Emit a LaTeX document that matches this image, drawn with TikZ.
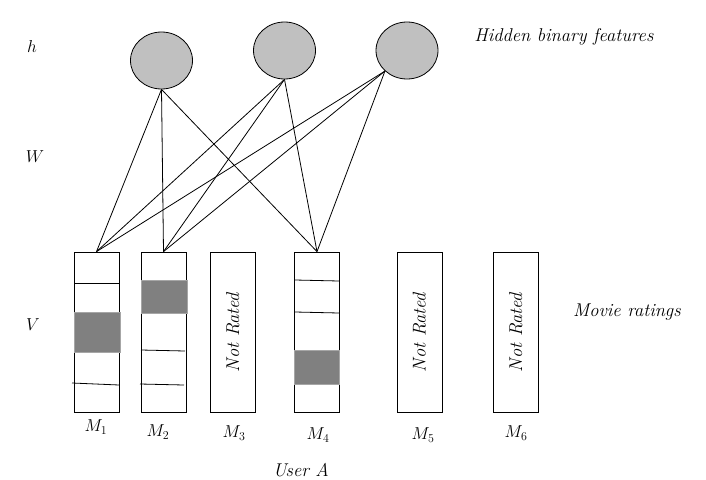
\documentclass[tikz,border=0pt]{standalone}
\usetikzlibrary{shapes.geometric}

\tikzset{every path/.style={line width=0.8pt}}
\tikzset{
  hidden/.style={ellipse,draw,fill=hidcol,inner sep=0pt,minimum width=62pt,minimum height=57pt},
  rating/.style={rectangle,draw,fill=white,inner sep=0pt,minimum width=45pt,minimum height=160pt},
  rated/.style={fill=ratecol,draw=ratecol!70!white},
  lbl/.style={font=\fontsize{18.5}{20}\selectfont}
}
\definecolor{hidcol}{RGB}{192,192,192}
\definecolor{ratecol}{RGB}{128,128,128}

\begin{document}
\begin{tikzpicture}[x=1pt,y=-1pt]
    \useasboundingbox (0,0) rectangle (706,479);
    % hidden units
    \node[hidden] (h1) at (161.5,60.5) {};
    \node[hidden] (h2) at (284.5,50.5) {};
    \node[hidden] (h3) at (407,50.5) {};
    % visible units
    \node[rating] (M1) at (96.5,332) {};
    \node[rating] (M2) at (163.5,332) {};
    \node[rating] (M3) at (233,332) {};
    \node[rating] (M4) at (317,332) {};
    \node[rating] (M5) at (419.5,332) {};
    \node[rating] (M6) at (516,332) {};
    % ratings of user A
    \fill[rated] (74,312) rectangle (120,352);
    \draw (74,283) -- (119,283);
    \draw (72,383) -- (119,385);
    \fill[rated] (141,280) rectangle (187,313);
    \draw (141,350) -- (185,351);
    \draw (140,384) -- (184,385);
    \fill[rated] (294,350) rectangle (339,384);
    \draw (295,280) -- (339,281);
    \draw (295,312) -- (339,313);
    \node[lbl,rotate=90] at (M3) {\textit{Not Rated}};
    \node[lbl,rotate=90] at (M5) {\textit{Not Rated}};
    \node[lbl,rotate=90] at (M6) {\textit{Not Rated}};
    % weights
    \draw (h1.south) -- (M1.north);
    \draw (h1.south) -- (M2.north);
    \draw (h1.south) -- (M4.north);
    \draw (h2.south) -- (M1.north);
    \draw (h2.south) -- (M2.north);
    \draw (h2.south) -- (M4.north);
    \draw (h3.223) -- (M1.north);
    \draw (h3.223) -- (M2.north);
    \draw (h3.223) -- (M4.north);
    % labels
    \node[lbl] (lh) at (32,46) {$h$};
    \node[lbl] (lW) at (35,157) {$W$};
    \node[lbl] (lV) at (33,325) {$V$};
    \node[lbl] (l1) at (96,427) {$M_1$};
    \node[lbl] (l2) at (158,432) {$M_2$};
    \node[lbl] (l3) at (234,433) {$M_3$};
    \node[lbl] (l4) at (318,435) {$M_4$};
    \node[lbl] (l5) at (423,435) {$M_5$};
    \node[lbl] (l6) at (516,433) {$M_6$};
    \node[lbl] (user) at (301,470) {\textit{User A}};
    \node[lbl] (hid) at (564,37) {\textit{Hidden binary features}};
    \node[lbl] (mov) at (627,312) {\textit{Movie ratings}};
  \end{tikzpicture}
\end{document}
